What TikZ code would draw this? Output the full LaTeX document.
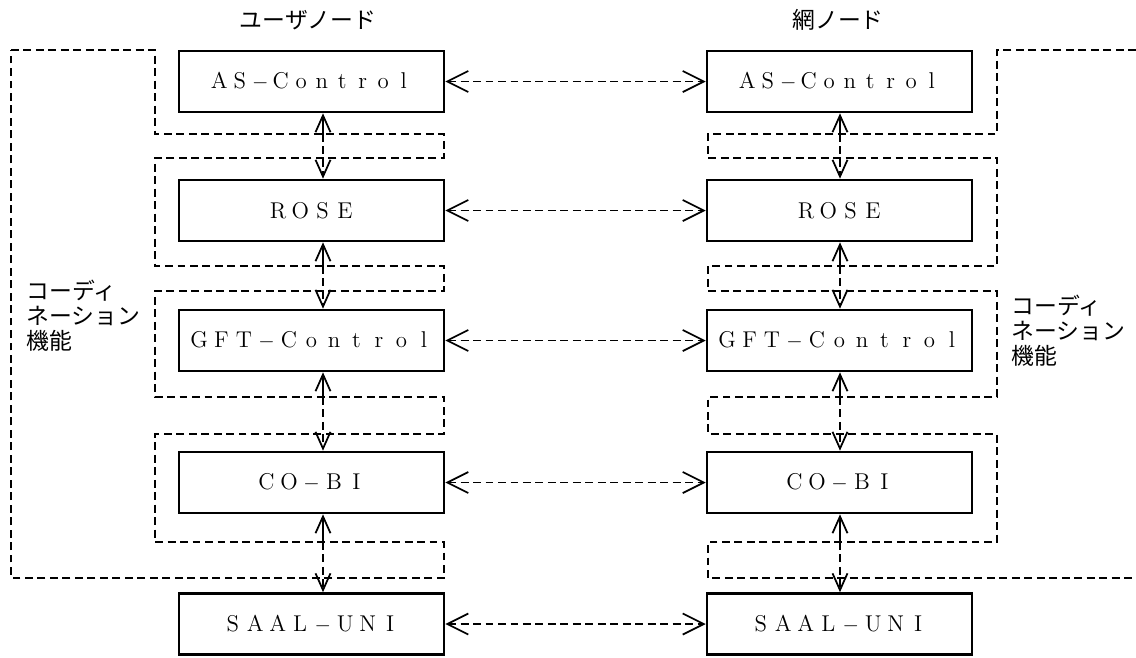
\documentclass[tikz,border=0pt]{standalone}
\usepackage{fontspec}
\newfontfamily\jp{Noto Sans CJK JP}
\usetikzlibrary{arrows.meta,positioning}

% evenly pitched letters for the layer names
\newlength\widepitch
\newcommand\fwminus{\ensuremath{-}}
\newcommand\wide[2][0.45cm]{\setlength\widepitch{#1}\widechars#2\relax}
\def\widechars#1{\ifx\relax#1\else\makebox[\widepitch]{#1}\expandafter\widechars\fi}

\tikzset{
  hbarb/.tip={Straight Barb[length=12pt, width=12pt]},
  vbarb/.tip={Straight Barb[length=9.5pt, width=8.5pt]},
}

\begin{document}
\begin{tikzpicture}[
  x=0.02cm, y=-0.02cm,
  layerbox/.style={rectangle, draw, line width=1.5pt, minimum width=5.3cm,
                   minimum height=1.22cm, inner sep=0pt,
                   font=\fontsize{13pt}{15pt}\selectfont},
  jplabel/.style={font=\jp\fontsize{13pt}{14.2pt}\selectfont,
                  inner sep=0pt, align=left},
  coordline/.style={line width=1pt, dash pattern=on 4.5pt off 2.6pt},
  peer/.style={coordline, arrows={hbarb-hbarb}},
]
  \useasboundingbox (0,0) rectangle (1136,657);

  % user side
  \node[layerbox] (uAS) at (311.5,81.5) {\wide[0.41cm]{AS\fwminus Control}};
  \node[layerbox] (uROSE) at (311.5,210.5) {\wide[0.445cm]{ROSE}};
  \node[layerbox] (uGFT) at (311.5,340.5) {\wide{GFT\fwminus Control}};
  \node[layerbox] (uCOBI) at (311.5,482.5) {\wide{CO\fwminus BI}};
  \node[layerbox] (uSAAL) at (311.5,624) {\wide{SAAL\fwminus UNI}};

  % network side
  \node[layerbox, right=5.21cm of uAS] (nAS) {\wide[0.41cm]{AS\fwminus Control}};
  \node[layerbox, right=5.21cm of uROSE] (nROSE) {\wide[0.445cm]{ROSE}};
  \node[layerbox, right=5.21cm of uGFT] (nGFT) {\wide{GFT\fwminus Control}};
  \node[layerbox, right=5.21cm of uCOBI] (nCOBI) {\wide{CO\fwminus BI}};
  \node[layerbox, right=5.21cm of uSAAL] (nSAAL) {\wide{SAAL\fwminus UNI}};

  \node[jplabel] (userlbl) at (308,20) {ユーザノード};
  \node[jplabel] (netlbl) at (838,20) {網ノード};

  % coordination areas
  \draw[coordline] (11,50) -- (155,50) -- (155,134) -- (444,134) -- (444,158)
    -- (155,158) -- (155,266) -- (444,266) -- (444,291) -- (155,291)
    -- (155,397) -- (444,397) -- (444,434) -- (155,434) -- (155,542)
    -- (444,542) -- (444,578) -- (11,578) -- cycle;
  \draw[coordline] (1136,50) -- (997,50) -- (997,134) -- (708,134) -- (708,158)
    -- (997,158) -- (997,266) -- (708,266) -- (708,291) -- (997,291)
    -- (997,397) -- (708,397) -- (708,434) -- (997,434) -- (997,542)
    -- (708,542) -- (708,578) -- (1136,578);

  \node[jplabel, anchor=north west] (ucoord) at (26,280)
    {コーディ\\ネーション\\機能};
  \node[jplabel, anchor=north west] (ncoord) at (1011,295)
    {コーディ\\ネーション\\機能};

  % peer-to-peer
  \foreach \n in {AS, ROSE, GFT, COBI, SAAL}
    \draw[peer] (u\n) -- (n\n);

  % between layers
  \foreach \a/\b/\y [count=\i] in {AS/ROSE/134, ROSE/GFT/266,
                                   GFT/COBI/397, COBI/SAAL/542} {
    \coordinate (ub\i) at (323,\y);
    \coordinate (nb\i) at (840,\y);
    \draw[line width=1pt, arrows={vbarb-}] (u\a.south -| ub\i) -- (ub\i);
    \draw[coordline, arrows={-vbarb}] (ub\i) -- (u\b.north -| ub\i);
    \draw[line width=1pt, arrows={vbarb-}] (n\a.south -| nb\i) -- (nb\i);
    \draw[coordline, arrows={-vbarb}] (nb\i) -- (n\b.north -| nb\i);
  }
\end{tikzpicture}
\end{document}
